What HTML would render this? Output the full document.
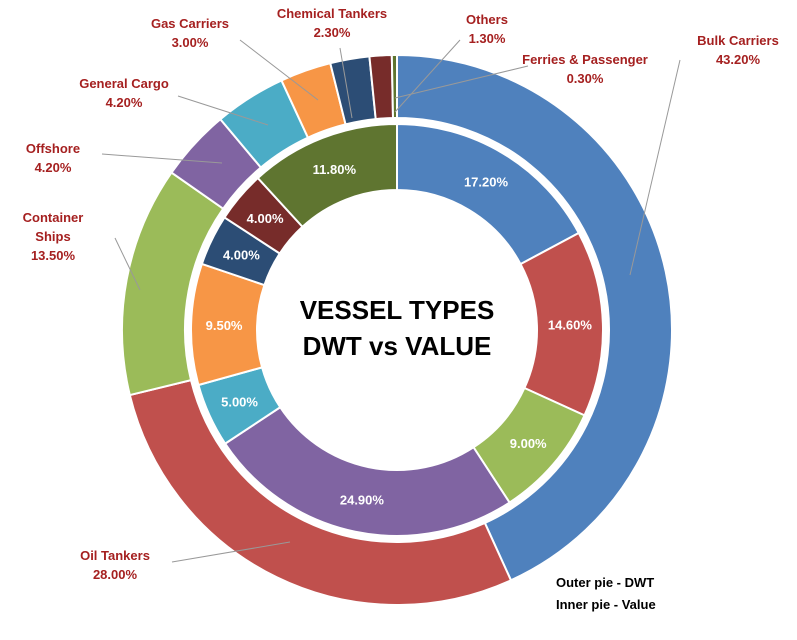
<!DOCTYPE html>
<html><head><meta charset="utf-8"><style>
body{margin:0;background:#fff;width:797px;height:635px;overflow:hidden;font-family:"Liberation Sans",sans-serif}
</style></head><body>
<svg id="c" width="797" height="635" xmlns="http://www.w3.org/2000/svg"></svg>
<script>
const outerCats=["Bulk Carriers","Oil Tankers","Container Ships","Offshore","General Cargo","Gas Carriers","Chemical Tankers","Others","Ferries & Passenger"];
const outerVals=[43.2,28.0,13.5,4.2,4.2,3.0,2.3,1.3,0.3];
const innerVals=[17.2,14.6,9.0,24.9,5.0,9.5,4.0,4.0,11.8];
const colors=["#4f81bd","#c0504d","#9bbb59","#8064a2","#4bacc6","#f79646","#2c4d75","#772c2a","#5f7530"];
const cx=397,cy=330;
const svg=document.getElementById('c');
const NS="http://www.w3.org/2000/svg";
function pt(r,f){const a=f*2*Math.PI-Math.PI/2;return [cx+r*Math.cos(a),cy+r*Math.sin(a)];}
function arc(r0,r1,f0,f1){const [a,b]=pt(r1,f0),[c,d]=pt(r1,f1),[e,g]=pt(r0,f1),[h,i]=pt(r0,f0);const L=(f1-f0)>0.5?1:0;
return `M${a},${b}A${r1},${r1} 0 ${L} 1 ${c},${d}L${e},${g}A${r0},${r0} 0 ${L} 0 ${h},${i}Z`;}
function ring(vals,r0,r1,name,labels){const tot=vals.reduce((s,v)=>s+v,0);let acc=0;
vals.forEach((v,i)=>{const f0=acc/tot,f1=(acc+v)/tot;acc+=v;
const p=document.createElementNS(NS,'path');p.setAttribute('d',arc(r0,r1,f0,f1));p.setAttribute('fill',colors[i]);p.setAttribute('stroke','#fff');p.setAttribute('stroke-width','2');


svg.appendChild(p);
if(labels){const [x,y]=pt((r0+r1)/2,(f0+f1)/2);const t=document.createElementNS(NS,'text');t.setAttribute('x',x);t.setAttribute('y',y+5);t.setAttribute('text-anchor','middle');t.setAttribute('fill','#fff');t.setAttribute('font-weight','bold');t.setAttribute('font-size','13');t.textContent=v.toFixed(2)+'%';


svg.appendChild(t);}
});}
ring(outerVals,212,275,'outer',false);
ring(innerVals,140,206,'inner',true);
const lpos=[[738,45],[115,560],[53,222],[53,153],[124,88],[190,28],[332,18],[487,24],[585,64]];
const lines=[[680,60,630,275],[172,562,290,542],[115,238,140,290],[102,154,222,163],[178,96,268,125],[240,40,318,100],[340,48,352,118],[460,40,395,112],[528,66,395,98]];
outerCats.forEach((c,i)=>{const l=document.createElementNS(NS,'line');const L=lines[i];
l.setAttribute('x1',L[0]);l.setAttribute('y1',L[1]);l.setAttribute('x2',L[2]);l.setAttribute('y2',L[3]);l.setAttribute('stroke','#999');


svg.appendChild(l);
const t=document.createElementNS(NS,'text');t.setAttribute('x',lpos[i][0]);t.setAttribute('y',lpos[i][1]);t.setAttribute('text-anchor','middle');t.setAttribute('fill','#a52020');t.setAttribute('font-weight','bold');t.setAttribute('font-size','13');
const parts=c==="Container Ships"?["Container","Ships"]:[c];
parts.concat([outerVals[i].toFixed(2)+'%']).forEach((s,k)=>{const ts=document.createElementNS(NS,'tspan');ts.setAttribute('x',lpos[i][0]);ts.setAttribute('dy',k?19:0);ts.textContent=s;t.appendChild(ts);});


svg.appendChild(t);});
</script>
<div style="position:absolute;left:247px;top:292px;width:300px;text-align:center;font-weight:bold;font-size:26px;line-height:36px;color:#000;white-space:nowrap">VESSEL TYPES<br>DWT vs VALUE</div>
<div style="position:absolute;left:556px;top:572px;font-weight:bold;font-size:13px;line-height:22px;color:#000">Outer pie - DWT<br>Inner pie - Value</div>
</body></html>
